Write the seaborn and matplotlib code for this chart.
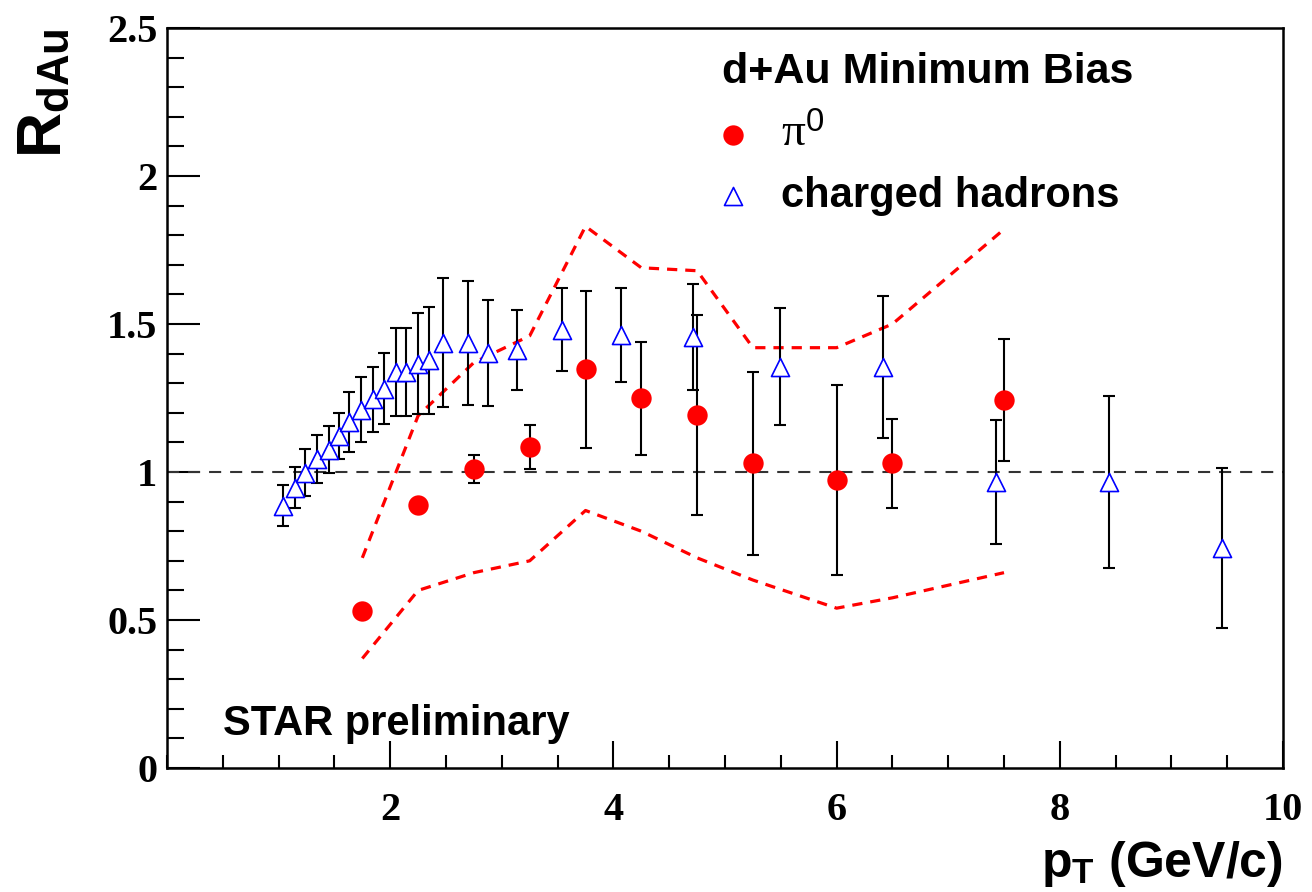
import numpy as np
import pandas as pd
import matplotlib
matplotlib.use("Agg")
import matplotlib.pyplot as plt
from matplotlib.ticker import MultipleLocator
import seaborn as sns

# ---------------- data ----------------
pi0_pt = [1.75, 2.25, 2.75, 3.25, 3.75, 4.25, 4.75, 5.25, 6.0, 6.5, 7.5]
pi0_r = [0.53, 0.89, 1.01, 1.085, 1.347, 1.249, 1.193, 1.029, 0.973, 1.029, 1.243]
pi0_err = [0.0, 0.0, 0.046, 0.074, 0.265, 0.19, 0.337, 0.31, 0.32, 0.149, 0.205]

band_pt = [1.75, 2.25, 2.75, 3.25, 3.75, 4.25, 4.75, 5.25, 6.0, 6.5, 7.5]
band_hi = [0.71, 1.19, 1.37, 1.46, 1.83, 1.69, 1.68, 1.42, 1.42, 1.50, 1.82]
band_lo = [0.37, 0.60, 0.66, 0.70, 0.87, 0.80, 0.71, 0.635, 0.54, 0.575, 0.66]

ch_pt = [1.04, 1.15, 1.24, 1.34, 1.45, 1.54, 1.63, 1.74, 1.85, 1.94, 2.05, 2.14,
         2.25, 2.35, 2.47, 2.70, 2.88, 3.14, 3.54, 4.07, 4.71, 5.49, 6.42, 7.43,
         8.44, 9.45]
ch_r = [0.886, 0.947, 0.998, 1.043, 1.076, 1.122, 1.170, 1.211, 1.245, 1.281,
        1.337, 1.337, 1.366, 1.377, 1.436, 1.436, 1.402, 1.413, 1.480, 1.463,
        1.457, 1.356, 1.356, 0.967, 0.967, 0.742]
ch_err = [0.07, 0.069, 0.079, 0.081, 0.081, 0.078, 0.101, 0.11, 0.11, 0.12,
          0.148, 0.148, 0.17, 0.18, 0.218, 0.21, 0.178, 0.136, 0.14, 0.158,
          0.179, 0.197, 0.24, 0.209, 0.29, 0.27]

xticks = [2, 4, 6, 8, 10]
xtick_labels = ["2", "4", "6", "8", "10"]
yticks = [0, 0.5, 1, 1.5, 2, 2.5]
ytick_labels = ["0", "0.5", "1", "1.5", "2", "2.5"]

legend_title = "d+Au Minimum Bias"
label_pi0 = r"$\mathrm{\pi}^{\mathsf{0}}$"
label_ch = "charged hadrons"
note_text = "STAR preliminary"
xlabel = r"$\mathbf{p}_{\mathbf{T}}$ (GeV/c)"
ylabel = r"$\mathbf{R}_{\mathbf{dAu}}$"

# ---------------- style ----------------
sns.set_style("white")
plt.rcParams["font.family"] = ["Liberation Sans", "DejaVu Sans"]
plt.rcParams["text.color"] = "black"
plt.rcParams["axes.labelcolor"] = "black"
plt.rcParams["xtick.color"] = "black"
plt.rcParams["ytick.color"] = "black"
plt.rcParams["mathtext.fontset"] = "custom"
plt.rcParams["mathtext.rm"] = "Liberation Serif"
plt.rcParams["mathtext.sf"] = "Liberation Sans"
plt.rcParams["mathtext.bf"] = "Liberation Sans:bold"
plt.rcParams["mathtext.it"] = "Liberation Serif:italic"

fig = plt.figure(figsize=(13.12, 8.92), dpi=100)
ax = fig.add_axes([0.1273, 0.1390, 0.8506, 0.8296])

df_band = pd.DataFrame({"pT": band_pt, "hi": band_hi, "lo": band_lo})
df_pi0 = pd.DataFrame({"pT": pi0_pt, "R": pi0_r, "err": pi0_err})
df_ch = pd.DataFrame({"pT": ch_pt, "R": ch_r, "err": ch_err})

# reference line at 1
ax.axhline(1.0, color="#333333", lw=1.5, ls=(0, (5.8, 4.3)), zorder=1)

# systematic band edges
for col in ["hi", "lo"]:
    sns.lineplot(data=df_band, x="pT", y=col, ax=ax, color="red", lw=2.3,
                 estimator=None, sort=False, zorder=1.5)
    ax.lines[-1].set_linestyle((0, (3.2, 2.5)))

# error bars
ax.errorbar(df_ch["pT"], df_ch["R"], yerr=df_ch["err"], fmt="none",
            ecolor="black", elinewidth=1.5, capsize=4, capthick=1.5, zorder=2)
ax.errorbar(df_pi0["pT"], df_pi0["R"], yerr=df_pi0["err"], fmt="none",
            ecolor="black", elinewidth=1.5, capsize=4, capthick=1.5, zorder=2)

# markers
sns.scatterplot(data=df_ch, x="pT", y="R", ax=ax, marker="^", s=169,
                color="blue", legend=False, zorder=3)
h_ch = ax.collections[-1]
h_ch.set_facecolor("white")
h_ch.set_edgecolor("blue")
h_ch.set_linewidth(1.2)

sns.scatterplot(data=df_pi0, x="pT", y="R", ax=ax, marker="o", s=215,
                color="red", edgecolor="red", linewidth=0, legend=False, zorder=4)
h_pi0 = ax.collections[-1]

# axes
ax.set_xlim(0, 10)
ax.set_ylim(0, 2.5)
ax.set_xlabel("")
ax.set_ylabel("")
tick_font = dict(fontfamily="Liberation Serif", fontweight="bold", fontsize=29)
ax.set_xticks(xticks, labels=xtick_labels, **tick_font)
ax.set_yticks(yticks, labels=ytick_labels, **tick_font)
ax.xaxis.set_minor_locator(MultipleLocator(0.5))
ax.yaxis.set_minor_locator(MultipleLocator(0.1))
ax.tick_params(axis="x", which="major", direction="in", length=19.5, width=1.5,
               pad=17, color="black", bottom=True, top=False)
ax.tick_params(axis="x", which="minor", direction="in", length=9.5, width=1.5,
               bottom=True, top=False)
ax.tick_params(axis="y", which="major", direction="in", length=24, width=1.5,
               pad=7, color="black", left=True, right=False)
ax.tick_params(axis="y", which="minor", direction="in", length=12, width=1.5,
               left=True, right=False)
for sp in ax.spines.values():
    sp.set_visible(True)
    sp.set_color("black")
    sp.set_linewidth(1.8)

# legend
leg = ax.legend(handles=[h_pi0, h_ch], labels=[label_pi0, label_ch],
                title=legend_title, loc="upper left",
                bbox_to_anchor=(722 / 1312, 1 - 52 / 892),
                bbox_transform=fig.transFigure, frameon=False,
                prop={"family": "Liberation Sans", "weight": "bold", "size": 30},
                title_fontproperties={"family": "Liberation Sans", "weight": "bold",
                                      "size": 31},
                alignment="left", handlelength=0.52, handletextpad=0.9,
                labelspacing=0.48, borderpad=0, borderaxespad=0, scatterpoints=1)
for t in leg.get_texts():
    t.set_color("black")
leg.get_texts()[0].set_fontsize(34)
leg.get_title().set_color("black")

# annotations
ax.text(0.50, 0.111, note_text, fontsize=30, fontweight="bold", ha="left",
        va="baseline", color="black")
fig.text(1283 / 1312, 1 - 877 / 892, xlabel, ha="right", va="baseline",
         fontsize=36, fontweight="bold", color="black")
fig.text(15 / 1312, 1 - 28 / 892, ylabel, rotation=90, ha="left", va="top",
         fontsize=45, color="black")

fig.savefig("out.png", dpi=100)
